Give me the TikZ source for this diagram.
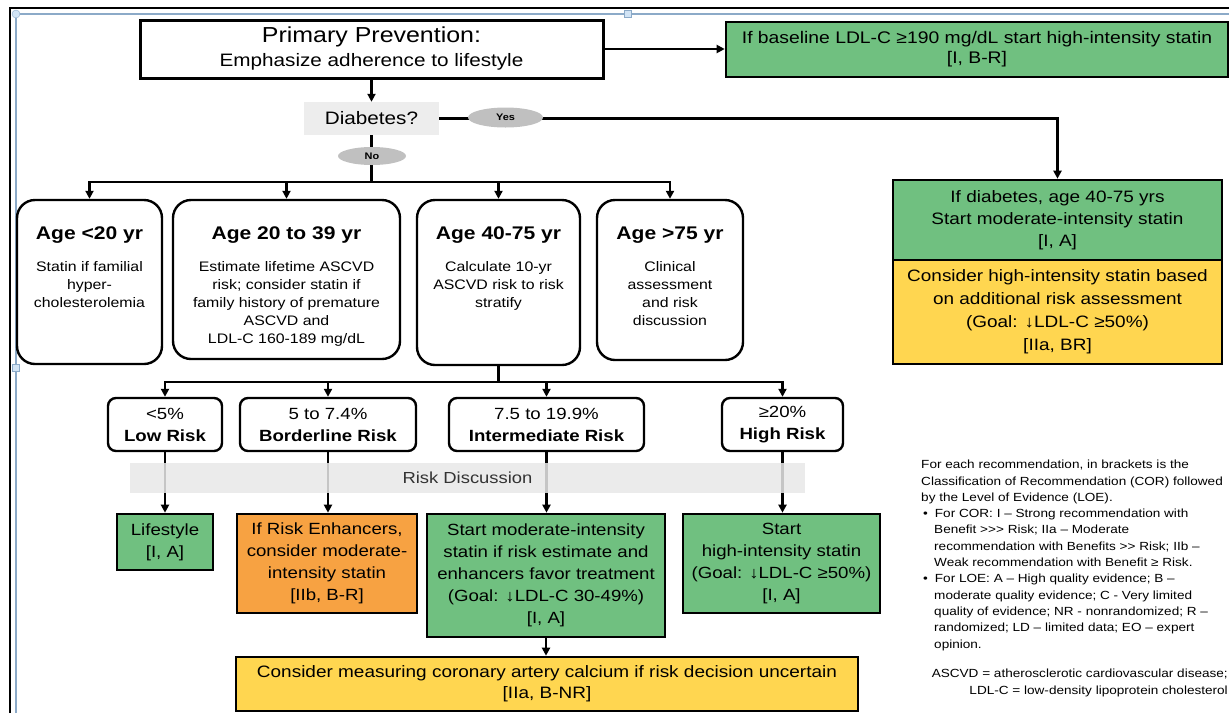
\documentclass[tikz,border=0pt]{standalone}
\usepackage{fontspec}
\setmainfont{Liberation Sans}[FakeStretch=1.15]
\usepackage{tikz}
\usepackage{xcolor}
\usetikzlibrary{arrows.meta, shapes.geometric}

\definecolor{recgreen}{RGB}{112,192,128}
\definecolor{recyellow}{RGB}{255,214,80}
\definecolor{recorange}{RGB}{247,162,66}
\definecolor{ovalgray}{RGB}{192,192,192}
\definecolor{diabgray}{RGB}{237,237,237}
\definecolor{bandgray}{RGB}{232,232,232}
\definecolor{selblue}{RGB}{140,170,200}
\definecolor{handle}{RGB}{210,228,245}

\newcommand{\setfs}[2]{\fontsize{#1}{#2}\selectfont}

\begin{document}
\begin{tikzpicture}[x=1pt, y=-1pt,
    conn/.style={line width=2.2pt},
    arr/.style={line width=2.2pt, -{Triangle[length=8pt, width=8pt]}},
    recbox/.style={draw, line width=2.6pt, align=center, inner sep=0pt},
    agebox/.style={draw, line width=2.4pt, rounded corners=18pt, inner sep=0pt},
    riskbox/.style={draw, line width=2.4pt, rounded corners=8pt, align=center, inner sep=0pt, minimum height=53pt, font=\setfs{16.2}{22}},
    agetitle/.style={font=\bfseries\setfs{18.3}{22}, anchor=base, inner sep=0pt},
    agebody/.style={font=\setfs{13.8}{18}, align=center, anchor=north, inner sep=0pt},
    oval/.style={ellipse, fill=ovalgray, inner sep=0pt, font=\bfseries\setfs{9.5}{10}},
    sel/.style={draw=selblue, fill=handle, inner sep=0pt}
]
    \useasboundingbox (0,0) rectangle (1229,713);

    % Screenshot frame
    \draw[line width=2pt] (10,713) -- (10,8) -- (1229,8);
    \draw[selblue, line width=1.2pt] (16,713) -- (16,14) -- (1229,14);
    \node[sel, circle, minimum size=8pt] (hcorner) at (16,14) {};
    \node[sel, minimum size=7pt] (htop) at (628,14) {};
    \node[sel, minimum size=7pt] (hleft) at (16,368) {};

    % Top nodes
    \node[recbox, line width=3pt, minimum width=463pt, minimum height=58pt, font=\setfs{18}{24}] (prim) at (371.5,49) {{\setfs{21.7}{24}Primary Prevention:}\\Emphasize adherence to lifestyle};
    \node[recbox, fill=recgreen, minimum width=502pt, minimum height=55pt, font=\setfs{16.8}{20}] (ldl) at (977,49.5) {If baseline LDL-C ≥190 mg/dL start high-intensity statin\\{}[I, B-R]};
    \node[fill=diabgray, minimum width=135pt, minimum height=33pt, inner sep=0pt, font=\setfs{18}{20}] (diab) at (371.5,118.5) {Diabetes?};

    % Diabetes branch
    \node[recbox, fill=recgreen, minimum width=329pt, minimum height=80pt, font=\setfs{16.5}{22}] (dgreen) at (1057.5,220) {If diabetes, age 40-75 yrs\\Start moderate-intensity statin\\{}[I, A]};
    \node[recbox, fill=recyellow, minimum width=329pt, minimum height=104pt, font=\setfs{16.5}{23}] (dyellow) at (1057.5,312) {Consider high-intensity statin based\\on additional risk assessment\\(Goal: ↓LDL-C ≥50\%)\\{}[IIa, BR]};

    % Age groups
    \node[agebox, minimum width=145pt, minimum height=164pt] (age1) at (89.5,282) {};
    \node[agebox, minimum width=227pt, minimum height=159pt] (age2) at (286.5,279.5) {};
    \node[agebox, minimum width=163pt, minimum height=165pt] (age3) at (498.5,282.5) {};
    \node[agebox, minimum width=146pt, minimum height=160pt] (age4) at (670,280) {};

    \node[agetitle] (t1) at (89.5,239) {Age <20 yr};
    \node[agetitle] (t2) at (286.5,239) {Age 20 to 39 yr};
    \node[agetitle] (t3) at (498.5,239) {Age 40-75 yr};
    \node[agetitle] (t4) at (670,239) {Age >75 yr};

    \node[agebody] (b1) at (89.5,261) {Statin if familial\\hyper-\\cholesterolemia};
    \node[agebody] (b2) at (286.5,261) {Estimate lifetime ASCVD\\risk; consider statin if\\family history of premature\\ASCVD and\\LDL-C 160-189 mg/dL};
    \node[agebody] (b3) at (498.5,261) {Calculate 10-yr\\ASCVD risk to risk\\stratify};
    \node[agebody] (b4) at (670,261) {Clinical\\assessment\\and risk\\discussion};

    % Risk groups
    \node[riskbox, minimum width=114pt] (low) at (165,424.5) {<5\%\\\textbf{Low Risk}};
    \node[riskbox, minimum width=176pt] (border) at (328,424.5) {5 to 7.4\%\\\textbf{Borderline Risk}};
    \node[riskbox, minimum width=195pt] (inter) at (546.5,424.5) {7.5 to 19.9\%\\\textbf{Intermediate Risk}};
    \node[riskbox, minimum width=121pt] (high) at (782.5,424.5) {≥20\%\\\textbf{High Risk}};

    % Recommendations
    \node[recbox, fill=recgreen, minimum width=96pt, minimum height=56pt, font=\setfs{16.2}{22}] (life) at (165,542) {Lifestyle\\{}[I, A]};
    \node[recbox, fill=recorange, minimum width=180pt, minimum height=99pt, font=\setfs{16.2}{22}] (enh) at (327,563.5) {If Risk Enhancers,\\consider moderate-\\intensity statin\\{}[IIb, B-R]};
    \node[recbox, fill=recgreen, minimum width=238pt, minimum height=123pt, font=\setfs{16.2}{22}] (mod) at (546,575.5) {Start moderate-intensity\\statin if risk estimate and\\enhancers favor treatment\\(Goal: ↓LDL-C 30-49\%)\\{}[I, A]};
    \node[recbox, fill=recgreen, minimum width=197pt, minimum height=99pt, font=\setfs{16.2}{22}] (hi) at (781.5,563.5) {Start\\high-intensity statin\\(Goal: ↓LDL-C ≥50\%)\\{}[I, A]};
    \node[recbox, fill=recyellow, minimum width=622pt, minimum height=54pt, font=\setfs{16.5}{21}] (cac) at (547,684) {Consider measuring coronary artery calcium if risk decision uncertain\\{}[IIa, B-NR]};

    % Edges
    \coordinate (nobus) at (371.5,182);
    \coordinate (riskbus) at (498.5,382);
    \draw[arr] (prim.east) -- (prim.east -| ldl.west);
    \draw[arr] (prim.south) -- (diab.north);
    \draw[arr] (diab.east) -| (dgreen.north);
    \draw[conn] (diab.south) -- (nobus);
    \foreach \a in {age1, age2, age3, age4}
        \draw[arr] (nobus) -| (\a.north);
    \draw[conn] (age3.south) -- (riskbus);
    \foreach \r in {low, border, inter, high}
        \draw[arr] (riskbus) -| (\r.north);
    \draw[arr] (low.south) -- (life.north);
    \draw[arr] (border.south) -- (border.south |- enh.north);
    \draw[arr] (inter.south) -- (inter.south |- mod.north);
    \draw[arr] (high.south) -- (high.south |- hi.north);
    \draw[arr] (mod.south) -- (mod.south |- cac.north);

    % Labels on edges
    \node[oval, minimum width=75pt, minimum height=20pt] (yes) at (505.5,117.5) {Yes};
    \node[oval, minimum width=68pt, minimum height=18pt] (no) at (372,156) {No};
    \node[fill=bandgray, fill opacity=0.85, text opacity=1, text=black!80, minimum width=675pt, minimum height=30pt, inner sep=0pt, font=\setfs{16}{18}] (disc) at (467.5,478) {Risk Discussion};

    % Notes
    \node[anchor=north west, inner sep=0pt, align=left, font=\setfs{11.8}{16.3}] (note) at (921,460) {For each recommendation, in brackets is the\\
        Classification of Recommendation (COR) followed\\
        by the Level of Evidence (LOE).\\
        \hspace*{2pt}\textbullet\hspace*{7pt}For COR: I – Strong recommendation with\\
        \hspace*{13pt}Benefit >{}>{}> Risk; IIa – Moderate\\
        \hspace*{13pt}recommendation with Benefits >{}> Risk; IIb –\\
        \hspace*{13pt}Weak recommendation with Benefit ≥ Risk.\\
        \hspace*{2pt}\textbullet\hspace*{7pt}For LOE: A – High quality evidence; B –\\
        \hspace*{13pt}moderate quality evidence; C - Very limited\\
        \hspace*{13pt}quality of evidence; NR - nonrandomized; R –\\
        \hspace*{13pt}randomized; LD – limited data; EO – expert\\
        \hspace*{13pt}opinion.};
    \node[anchor=north east, inner sep=0pt, align=right, font=\setfs{11.8}{16.3}] (abbr) at (1228,669) {ASCVD = atherosclerotic cardiovascular disease;\\LDL-C = low-density lipoprotein cholesterol};
\end{tikzpicture}
\end{document}
